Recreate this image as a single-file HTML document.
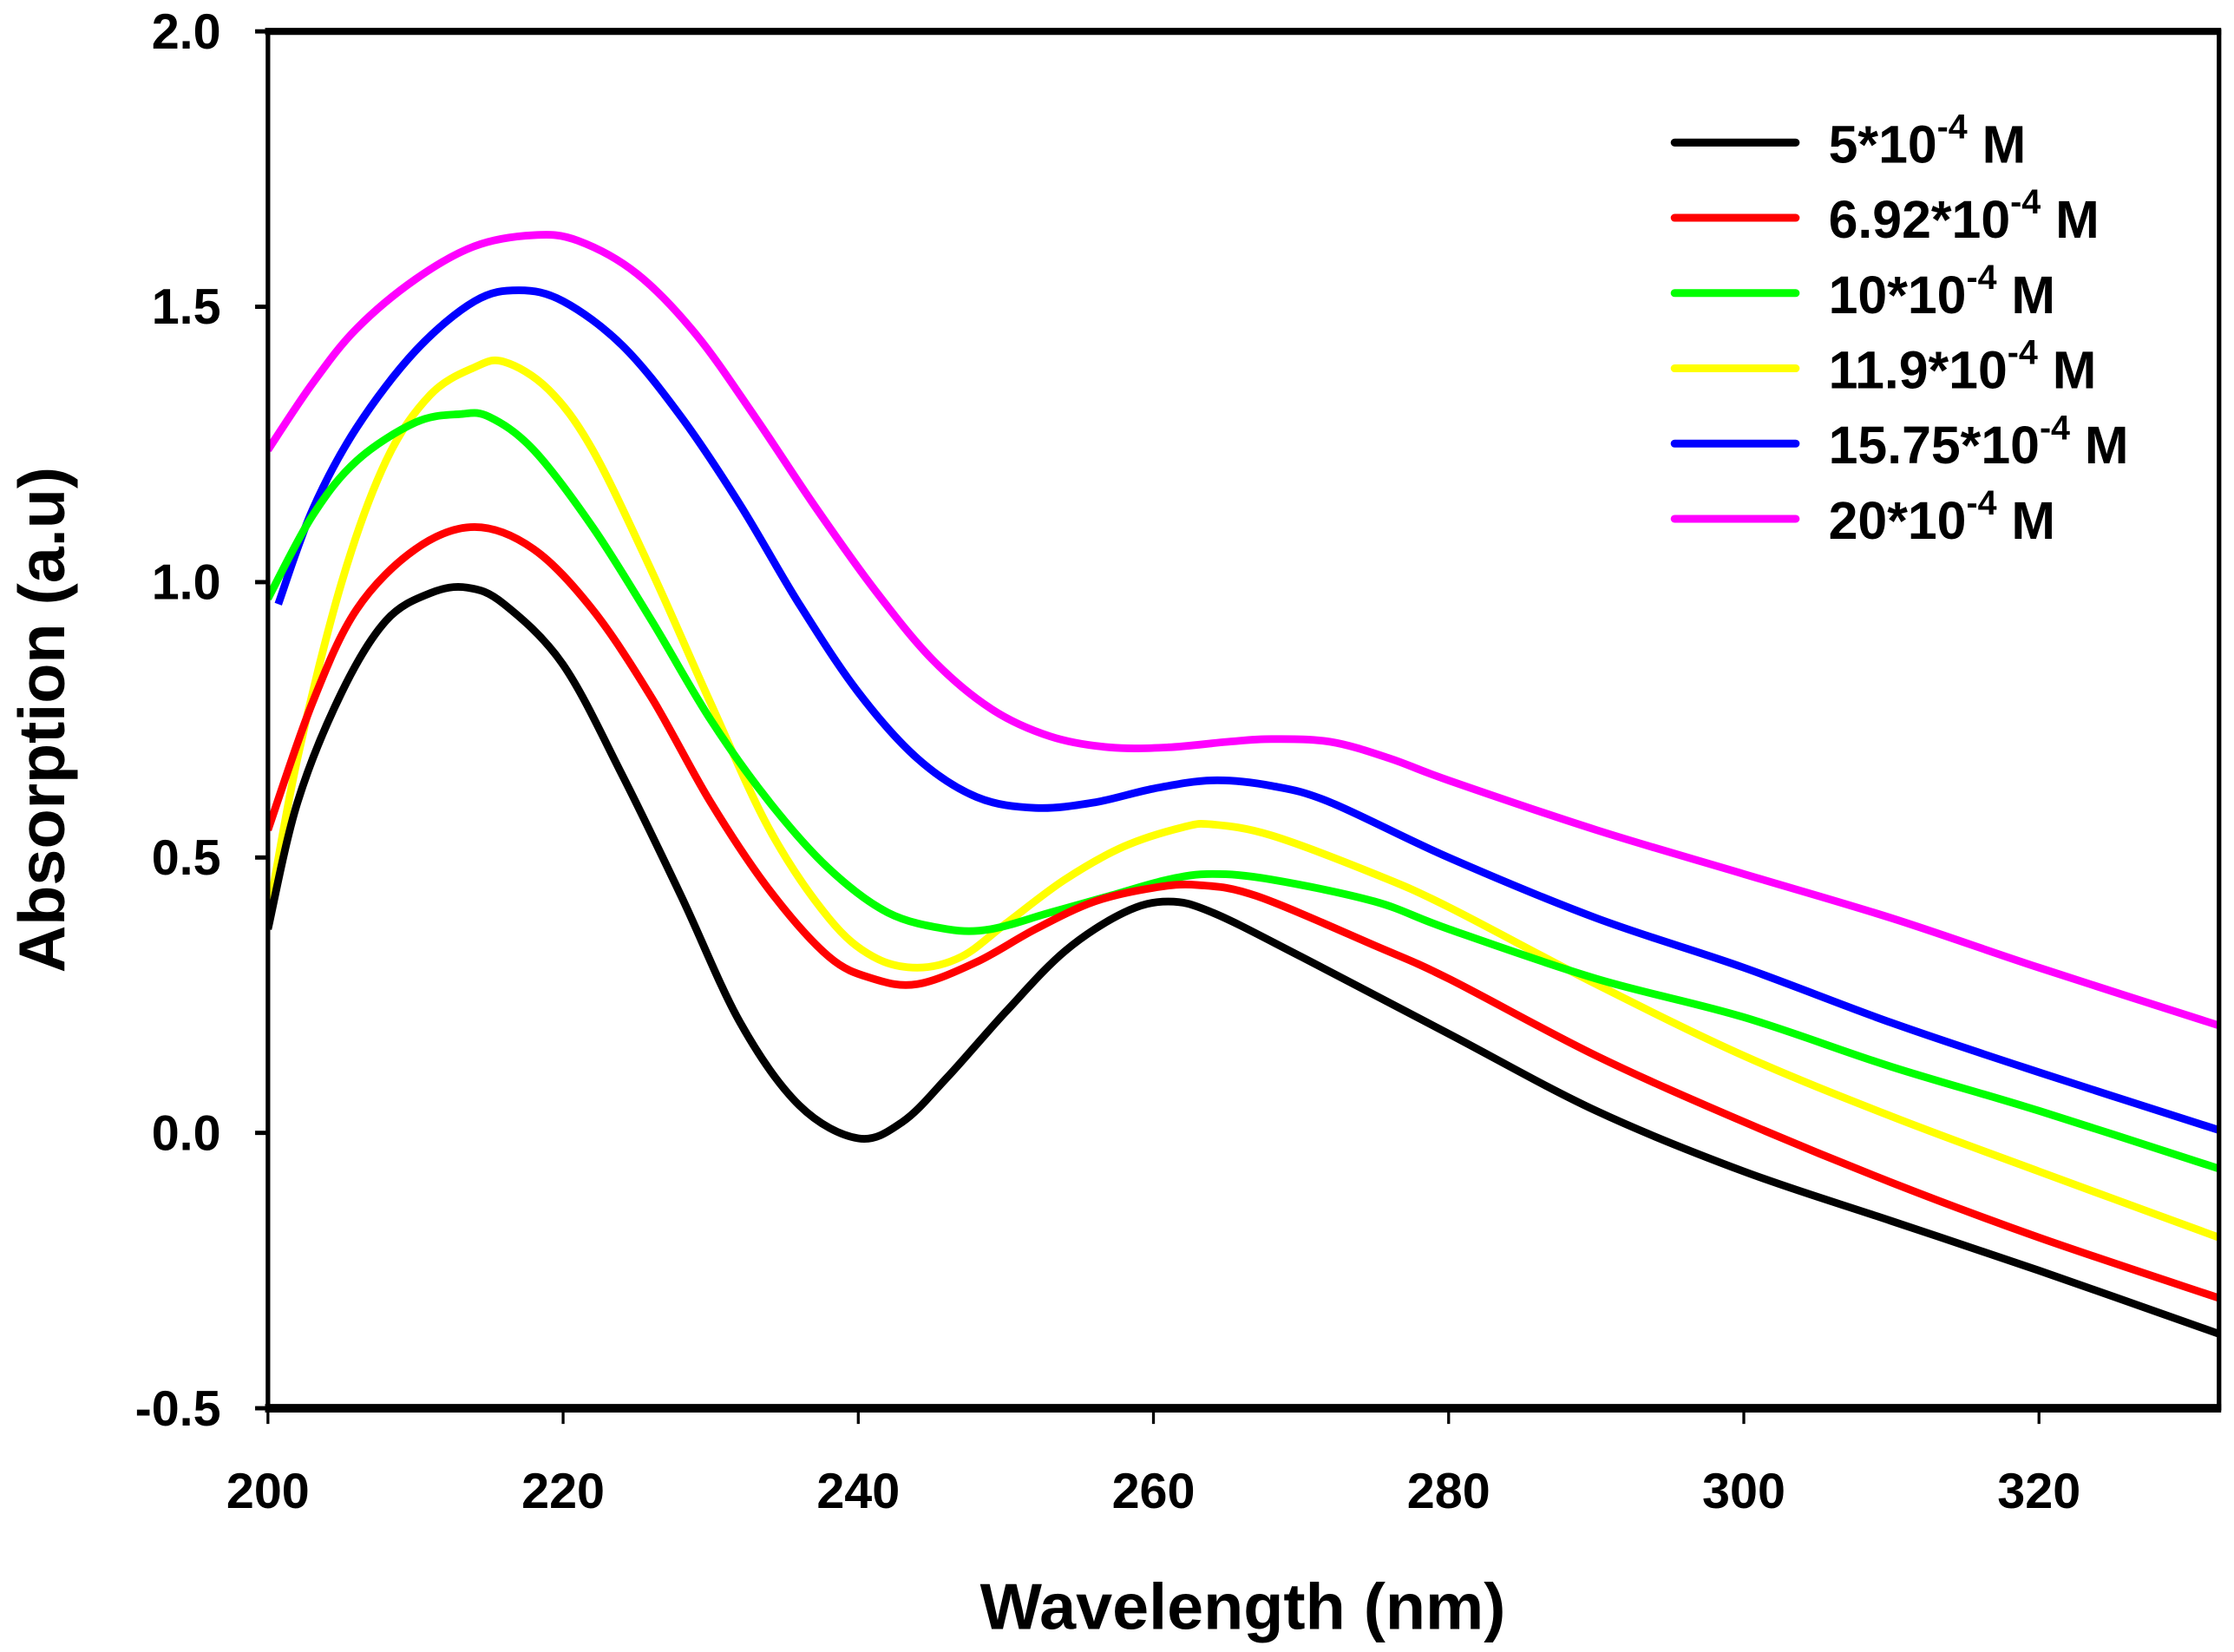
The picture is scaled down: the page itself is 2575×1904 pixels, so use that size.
<!DOCTYPE html>
<html><head><meta charset="utf-8"><style>
html,body{margin:0;padding:0;background:#fff;}
svg{display:block;}
text{font-family:"Liberation Sans",Arial,sans-serif;font-weight:bold;fill:#000;}
</style></head><body>
<svg id="chart" width="2575" height="1904" viewBox="0 0 1567.5 1159" xmlns="http://www.w3.org/2000/svg">
<defs><clipPath id="pc"><rect x="188" y="22" width="1369" height="966"/></clipPath></defs>
<g id="series" clip-path="url(#pc)"></g>
<g id="axes"></g>
<g id="legend"></g>
<text x="872" y="1143" font-size="46" text-anchor="middle">Wavelength (nm)</text>
<text transform="translate(45,505) rotate(-90)" font-size="46" text-anchor="middle">Absorption (a.u)</text>
</svg>
<script>
const xTicks=[200,220,240,260,280,300,320];
const yTicks=[-0.5,0.0,0.5,1.0,1.5,2.0];
const yTickLabels=["-0.5","0.0","0.5","1.0","1.5","2.0"];
const seriesNames=["5*10","6.92*10","10*10","11.9*10","15.75*10","20*10"];
const seriesColors=["#000000","#ff0000","#00ff00","#ffff00","#0000ff","#ff00ff"];
const blackX=[200,202,205,208,211,213.5,216,220,224,228,232,236,240,243,246,250,254,258,261,264,270,280,290,300,310,320,332.2];
const blackY=[0.37,0.6,0.8,0.93,0.98,0.99,0.96,0.85,0.65,0.43,0.2,0.05,-0.01,0.02,0.1,0.22,0.33,0.4,0.42,0.4,0.32,0.18,0.04,-0.07,-0.16,-0.25,-0.365];
const redX=[200,203,206,210,214,218,222,226,230,234,238,241,244,248,252,256,260,263,267,275,280,290,300,310,320,332.2];
const redY=[0.55,0.78,0.95,1.06,1.1,1.06,0.95,0.79,0.6,0.44,0.32,0.28,0.27,0.31,0.37,0.42,0.445,0.45,0.43,0.34,0.28,0.14,0.02,-0.09,-0.19,-0.3];
const greenX=[200,203,206,210,213,215,218,222,226,230,234,238,242,246,249,253,257,261,264,268,275,280,290,300,310,320,332.2];
const greenY=[0.97,1.12,1.22,1.29,1.305,1.3,1.24,1.1,0.93,0.75,0.6,0.48,0.4,0.37,0.37,0.4,0.43,0.46,0.47,0.46,0.42,0.37,0.28,0.21,0.12,0.04,-0.065];
const yellowX=[200,202,205,208,211,214,216,219,222,226,230,234,238,241,244,247,250,254,258,262,264,268,275,280,290,300,310,320,332.2];
const yellowY=[0.39,0.68,1.0,1.22,1.34,1.39,1.4,1.35,1.24,1.02,0.78,0.55,0.39,0.32,0.3,0.32,0.38,0.46,0.52,0.555,0.56,0.54,0.47,0.41,0.27,0.14,0.03,-0.07,-0.19];
const blueX=[200.7,203,206,210,214,217,220,224,228,232,236,240,244,248,252,256,260,264,268,272,280,290,300,310,320,332.2];
const blueY=[0.96,1.13,1.28,1.42,1.51,1.53,1.51,1.43,1.3,1.14,0.96,0.8,0.68,0.61,0.59,0.6,0.625,0.64,0.63,0.6,0.5,0.39,0.3,0.2,0.11,0.005];
const magentaX=[200,203,206,210,214,218,221,225,229,233,237,241,245,249,253,257,261,265,268,272,276,280,290,300,310,320,332.2];
const magentaY=[1.24,1.36,1.46,1.55,1.61,1.63,1.62,1.56,1.45,1.3,1.14,0.99,0.86,0.77,0.72,0.7,0.7,0.71,0.715,0.71,0.68,0.64,0.55,0.47,0.39,0.3,0.195];

const NS="http://www.w3.org/2000/svg";
const L=188,R=1557,T=22,B=988;
const xMin=200,xMax=332.2,yMin=-0.5,yMax=2.0;
function sx(v){return L+(v-xMin)/(xMax-xMin)*(R-L);}
function sy(v){return B-(v-yMin)/(yMax-yMin)*(B-T);}
function mk(tag,attrs,parent){const e=document.createElementNS(NS,tag);for(const k in attrs)e.setAttribute(k,attrs[k]);parent.appendChild(e);return e;}
function pathFrom(xs,ys){
  const p=xs.map((x,i)=>[sx(x),sy(ys[i])]);
  let d="M"+p[0][0].toFixed(2)+","+p[0][1].toFixed(2);
  for(let i=0;i<p.length-1;i++){
    const p0=p[i-1]||p[i],p1=p[i],p2=p[i+1],p3=p[i+2]||p2;
    const c1=[p1[0]+(p2[0]-p0[0])/6,p1[1]+(p2[1]-p0[1])/6];
    const c2=[p2[0]-(p3[0]-p1[0])/6,p2[1]-(p3[1]-p1[1])/6];
    d+=" C"+c1[0].toFixed(2)+","+c1[1].toFixed(2)+" "+c2[0].toFixed(2)+","+c2[1].toFixed(2)+" "+p2[0].toFixed(2)+","+p2[1].toFixed(2);
  }
  return d;
}
const sg=document.getElementById('series');
const allX=[blackX,redX,greenX,yellowX,blueX,magentaX];
const allY=[blackY,redY,greenY,yellowY,blueY,magentaY];
const order=[5,4,3,2,1,0];
const slug=["5e-4","6-92e-4","10e-4","11-9e-4","15-75e-4","20e-4"];
order.forEach(i=>{
  const pth=mk('path',{d:pathFrom(allX[i],allY[i]),fill:'none',stroke:seriesColors[i],'stroke-width':5.4,'stroke-linejoin':'round'},sg);
  
  
});
const ax=document.getElementById('axes');
const fr=mk('rect',{x:L,y:T,width:R-L,height:B-T,fill:'none',stroke:'#000','stroke-width':3.2},ax);


const tl=mk('line',{x1:L-2,y1:T,x2:R+1.5,y2:T,stroke:'#000','stroke-width':5},ax);


const bl=mk('line',{x1:L-2,y1:B,x2:R+1.5,y2:B,stroke:'#000','stroke-width':6},ax);


yTicks.forEach((v,i)=>{
  const t=mk('line',{x1:L-9,y1:sy(v),x2:L,y2:sy(v),stroke:'#000','stroke-width':3},ax);
  
  
  const tx=mk('text',{x:155,y:sy(v)+12,'font-size':35,'text-anchor':'end'},ax);
  tx.textContent=yTickLabels[i];
  
  
});
xTicks.forEach(v=>{
  const t=mk('line',{x1:sx(v),y1:B,x2:sx(v),y2:B+11,stroke:'#000','stroke-width':2},ax);
  
  
  const tx=mk('text',{x:sx(v),y:1058,'font-size':35,'text-anchor':'middle'},ax);
  tx.textContent=String(v);
  
  
});
const lg=document.getElementById('legend');
seriesNames.forEach((n,i)=>{
  const y=100+i*52.8;
  const ln=mk('line',{x1:1175,y1:y,x2:1260,y2:y,stroke:seriesColors[i],'stroke-width':5.5,'stroke-linecap':'round'},lg);
  
  
  const tx=mk('text',{x:1283,y:y+14,'font-size':37},lg);
  
  
  tx.appendChild(document.createTextNode(n));
  const sup=mk('tspan',{'font-size':24,dy:-17},tx);
  sup.textContent='-4';
  const rest=mk('tspan',{dy:17},tx);
  rest.textContent=' M';
});
</script>
</body></html>
